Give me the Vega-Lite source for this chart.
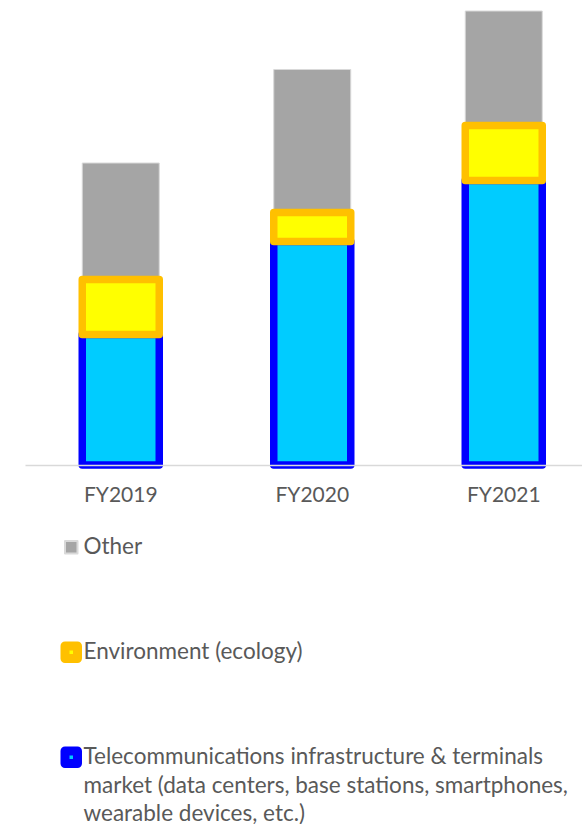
{
  "$schema": "https://vega.github.io/schema/vega-lite/v6.json",
  "width": 582,
  "height": 465,
  "autosize": {"type": "none"},
  "padding": {"left": 0, "top": 0, "right": 0, "bottom": 359},
  "background": "white",
  "config": {"view": {"stroke": null}, "font": "Lato"},
  "data": {
    "values": [
      {"year": "FY2019", "segment": "Other", "ord": 3, "value": 116.5},
      {"year": "FY2020", "segment": "Other", "ord": 3, "value": 143},
      {"year": "FY2021", "segment": "Other", "ord": 3, "value": 114.5},
      {"year": "FY2019", "segment": "Telecommunications infrastructure & terminals market (data centers, base stations, smartphones, wearable devices, etc.)", "ord": 1, "value": 130.5},
      {"year": "FY2020", "segment": "Telecommunications infrastructure & terminals market (data centers, base stations, smartphones, wearable devices, etc.)", "ord": 1, "value": 223.5},
      {"year": "FY2021", "segment": "Telecommunications infrastructure & terminals market (data centers, base stations, smartphones, wearable devices, etc.)", "ord": 1, "value": 284.5},
      {"year": "FY2019", "segment": "Environment (ecology)", "ord": 2, "value": 55},
      {"year": "FY2020", "segment": "Environment (ecology)", "ord": 2, "value": 29},
      {"year": "FY2021", "segment": "Environment (ecology)", "ord": 2, "value": 55}
    ]
  },
  "transform": [
    {"stack": "value", "groupby": ["year"], "sort": [{"field": "ord", "order": "ascending"}], "as": ["v0", "v1"]}
  ],
  "mark": {"type": "bar", "width": 77, "strokeJoin": "round"},
  "encoding": {
    "x": {
      "field": "year",
      "type": "nominal",
      "scale": {"range": [25, 599.5], "paddingInner": 0, "paddingOuter": 0},
      "axis": {
        "title": null,
        "domainColor": "#D9D9D9",
        "domainWidth": 1.5,
        "ticks": false,
        "labelFontSize": 21,
        "labelColor": "#595959",
        "labelPadding": 19,
        "labelAngle": 0,
        "zindex": 1
      }
    },
    "y": {"field": "v1", "type": "quantitative", "scale": {"domain": [0, 465]}, "axis": null},
    "y2": {"field": "v0"},
    "fill": {
      "field": "segment",
      "type": "nominal",
      "scale": {
        "domain": ["Other", "Environment (ecology)", "Telecommunications infrastructure & terminals market (data centers, base stations, smartphones, wearable devices, etc.)"],
        "range": ["#A5A5A5", "#FFFF00", "#00CCFF"]
      },
      "legend": {
        "orient": "none",
        "legendX": 60,
        "legendY": 536,
        "direction": "vertical",
        "title": null,
        "padding": 0,
        "symbolType": "square",
        "symbolSize": 156,
        "labelFontSize": 22.5,
        "labelColor": "#595959",
        "labelLimit": 600,
        "rowPadding": 82,
        "labelOffset": 1,
        "labelExpr": "datum.label == 'Other' || datum.label == 'Environment (ecology)' ? datum.label : ['Telecommunications infrastructure & terminals', 'market (data centers, base stations, smartphones,', 'wearable devices, etc.)']",
        "encode": {
          "symbols": {
            "update": {
              "strokeWidth": {"signal": "datum.value === 'Other' ? 2 : 9"},
              "stroke": {"signal": "datum.value === 'Other' ? '#A5A5A5' : datum.value === 'Environment (ecology)' ? '#FFC000' : '#0000FF'"},
              "strokeJoin": {"value": "round"}
            }
          },
          "labels": {
            "update": {
              "lineHeight": {"value": 28.5}
            }
          }
        }
      }
    },
    "stroke": {
      "field": "segment",
      "type": "nominal",
      "scale": {
        "domain": ["Other", "Environment (ecology)", "Telecommunications infrastructure & terminals market (data centers, base stations, smartphones, wearable devices, etc.)"],
        "range": ["#D9D9D9", "#FFC000", "#0000FF"]
      }
    },
    "strokeWidth": {
      "condition": {"test": "datum.segment == 'Other'", "value": 1},
      "value": 7.5
    }
  }
}
